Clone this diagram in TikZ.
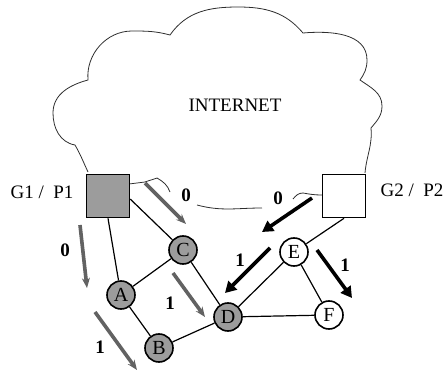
\documentclass[tikz,border=0pt]{standalone}
\usepackage{fontspec}
\setmainfont{Liberation Serif}
\usepackage{tikz}
\usetikzlibrary{arrows.meta, positioning, shapes.geometric, calc}
\definecolor{netShade}{HTML}{9C9C9C}
\definecolor{netFlow}{HTML}{626262}
\definecolor{netCloud}{HTML}{2E2E2E}

\tikzset{
  router/.style={circle, draw, line width=1.6pt, minimum size=28pt, inner sep=0pt, fill=netShade, font=\fontsize{20}{20}\selectfont},
  freerouter/.style={router, fill=white},
  gateway/.style={rectangle, draw, line width=1.6pt, minimum size=43pt, inner sep=0pt},
  link/.style={line width=1.2pt},
  metric/.style={font=\fontsize{19}{19}\selectfont\bfseries},
  oldflow/.style={-{Stealth[length=10pt,width=8pt]}, line width=3.6pt, draw=netFlow},
  newflow/.style={-{Triangle[length=11pt,width=12pt]}, line width=3.6pt},
  cloudline/.style={line width=0.8pt, draw=netCloud},
}

\begin{document}
\begin{tikzpicture}[x=1pt, y=1pt, font=\fontsize{19}{19}\selectfont]
  \useasboundingbox (0,0) rectangle (445,373);

  % Internet cloud
  \draw[cloudline] (88,201) to[out=115,in=-60] (75,228)
    to[out=170,in=-90] (53,260) to[out=90,in=195] (88,293)
    to[out=95,in=180] (132,342) to[out=0,in=165] (170,338)
    to[out=55,in=180] (238,366) to[out=0,in=130] (303,340)
    to[out=5,in=90] (367,313) to[out=-90,in=55] (360,293)
    to[out=-35,in=90] (382,267) to[out=-90,in=50] (371,245)
    to[out=-85,in=85] (365,200);
  \draw[cloudline] (129,189) -- (145,191) to[out=20,in=200] (157,195) to[out=-30,in=110] (170,181);
  \draw[cloudline] (197,168) to[out=-15,in=180] (262,165);
  \draw[cloudline] (293,174) to[out=50,in=180] (303,180) to[out=-10,in=180] (322,178);
  \node (net) at (235,268) {INTERNET};

  % Gateways
  \node[gateway, fill=netShade] (g1) at (108,177) {};
  \node[gateway, fill=white] (g2) at (344,177) {};
  \node (g1lab) at (42,181) {G1 /\ \ P1};
  \node (g2lab) at (412,183) {G2 /\ \ P2};

  % Routers
  \node[router] (C) at (183,123) {C};
  \node[router] (A) at (121,78) {A};
  \node[router] (B) at (159,25) {B};
  \node[router] (D) at (228,56) {D};
  \node[freerouter] (E) at (294,121) {E};
  \node[freerouter] (F) at (329,58) {F};

  % Links
  \draw[link] (g1.south) -- (A);
  \draw[link] (g1.-8) -- (C);
  \draw[link] (C) -- (A);
  \draw[link] (A) -- (B);
  \draw[link] (C) -- (D);
  \draw[link] (B) -- (D);
  \draw[link] (D) -- (E);
  \draw[link] (D) -- (F);
  \draw[link] (E) -- (F);
  \draw[link] (g2.south) -- (E);

  % Old routes (G1)
  \coordinate (o1s) at (145,190); \coordinate (o1e) at (186,149);
  \coordinate (o2s) at (80,148);  \coordinate (o2e) at (87,85);
  \coordinate (o3s) at (173,100); \coordinate (o3e) at (205,56);
  \coordinate (o4s) at (95,61);   \coordinate (o4e) at (137,3);
  \draw[oldflow] (o1s) -- (o1e);
  \draw[oldflow] (o2s) -- (o2e);
  \draw[oldflow] (o3s) -- (o3e);
  \draw[oldflow] (o4s) -- (o4e);
  \node[metric] (m1) at (186,178) {0};
  \node[metric] (m2) at (65,123) {0};
  \node[metric] (m3) at (170,70) {1};
  \node[metric] (m4) at (100,26) {1};

  % New routes (G2)
  \coordinate (n1s) at (312,175); \coordinate (n1e) at (262,141);
  \coordinate (n2s) at (270,125); \coordinate (n2e) at (225,80);
  \coordinate (n3s) at (317,123); \coordinate (n3e) at (352,75);
  \draw[newflow] (n1s) -- (n1e);
  \draw[newflow] (n2s) -- (n2e);
  \draw[newflow] (n3s) -- (n3e);
  \node[metric] (m5) at (278,175) {0};
  \node[metric] (m6) at (240,113) {1};
  \node[metric] (m7) at (345,108) {1};
\end{tikzpicture}
\end{document}
